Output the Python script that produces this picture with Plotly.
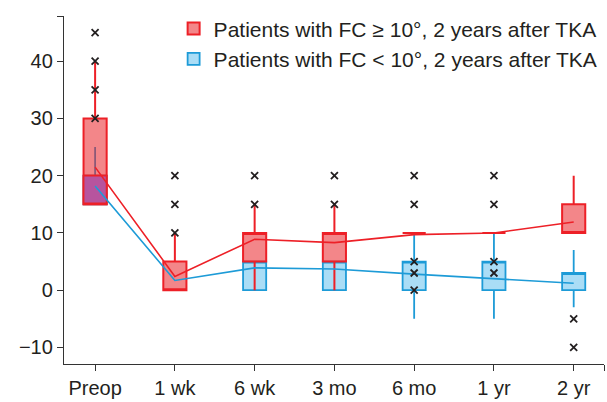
import plotly.graph_objects as go

categories = ["Preop", "1 wk", "6 wk", "3 mo", "6 mo", "1 yr", "2 yr"]

# Patients with FC >= 10 deg (red)
red_q1 = [15, 0, 5, 5, 10, 10, 10]
red_median = [20, 0, 10, 10, 10, 10, 10]
red_q3 = [30, 5, 10, 10, 10, 10, 15]
red_low = [15, 0, 0, 0, 10, 10, 10]
red_high = [40, 10, 15, 15, 10, 10, 20]
red_mean = [21.5, 2.4, 8.9, 8.3, 9.7, 10.0, 11.9]
red_outliers = [[30, 35, 40, 45], [10, 15, 20], [15, 20], [15, 20], [15, 20], [15, 20], []]

# Patients with FC < 10 deg (blue)
blue_q1 = [15, 0, 0, 0, 0, 0, 0]
blue_median = [20, 0, 5, 5, 5, 5, 3]
blue_q3 = [20, 0, 5, 5, 5, 5, 3]
blue_low = [15, 0, 0, 0, -5, -5, -3]
blue_high = [25, 0, 5, 5, 10, 10, 7]
blue_mean = [18.2, 1.7, 3.9, 3.7, 2.8, 2.0, 1.2]
blue_outliers = [[], [], [], [], [0, 3, 5], [3, 5], [-5, -10]]

y_ticks = [-10, 0, 10, 20, 30, 40]

RED = "rgb(237,32,39)"
RED_FILL = "rgba(234,35,40,0.55)"
BLUE = "rgb(29,155,215)"
BLUE_FILL = "rgb(170,221,246)"
OVERLAP_FILL = "rgb(183,84,158)"
TXT = "#231f20"
FONT = "Liberation Sans, Arial, Helvetica, sans-serif"

xs = list(range(len(categories)))
BW = 0.29

fig = go.Figure()

fig.add_trace(go.Box(
    x=xs, q1=blue_q1, median=blue_median, q3=blue_q3,
    lowerfence=blue_low, upperfence=blue_high,
    name="Patients with FC < 10°, 2 years after TKA",
    fillcolor=BLUE_FILL, line=dict(color=BLUE, width=1.8),
    whiskerwidth=0, boxpoints=False, width=BW, legendrank=2,
    hoverinfo="skip",
))

fig.add_trace(go.Box(
    x=xs, q1=red_q1, median=red_median, q3=red_q3,
    lowerfence=red_low, upperfence=red_high,
    name="Patients with FC ≥ 10°, 2 years after TKA",
    fillcolor=RED_FILL, line=dict(color=RED, width=2),
    whiskerwidth=0, boxpoints=False, width=BW, legendrank=1,
    hoverinfo="skip",
))

# overlapping region of the two Preop boxes
ov_lo = max(red_q1[0], blue_q1[0])
ov_hi = min(red_q3[0], blue_q3[0])
fig.add_trace(go.Box(
    x=[xs[0]], q1=[ov_lo], median=[ov_lo], q3=[ov_hi],
    lowerfence=[ov_lo], upperfence=[ov_hi],
    fillcolor=OVERLAP_FILL, line=dict(color=RED, width=1.8),
    whiskerwidth=0, boxpoints=False, width=BW, showlegend=False,
    hoverinfo="skip",
))

fig.add_trace(go.Scatter(
    x=xs, y=blue_mean, mode="lines", line=dict(color=BLUE, width=1.6),
    showlegend=False, hoverinfo="skip",
))
fig.add_trace(go.Scatter(
    x=xs, y=red_mean, mode="lines", line=dict(color=RED, width=1.6),
    showlegend=False, hoverinfo="skip",
))

ox, oy = [], []
for i in xs:
    for v in red_outliers[i] + blue_outliers[i]:
        ox.append(i)
        oy.append(v)
fig.add_trace(go.Scatter(
    x=ox, y=oy, mode="markers",
    marker=dict(symbol="x-thin", size=7, line=dict(width=1.8, color=TXT)),
    showlegend=False, hoverinfo="skip",
))

x_lo, x_hi = -0.39, 6.38
y_lo, y_hi = -12.9, 47.9

fig.update_layout(
    width=607, height=402,
    margin=dict(l=64, r=3, t=16, b=34),
    paper_bgcolor="white", plot_bgcolor="white",
    boxmode="overlay",
    font=dict(family=FONT, size=21, color=TXT),
    legend=dict(
        x=0.203, y=1.022, xanchor="left", yanchor="top",
        bgcolor="rgba(0,0,0,0)", font=dict(size=21, color=TXT),
        tracegroupgap=0,
    ),
    xaxis=dict(
        range=[x_lo, x_hi], tickvals=xs + [x_hi], ticktext=categories + [""],
        showgrid=False, zeroline=False, showline=True, linecolor="#333",
        linewidth=1.3, ticks="outside", ticklen=6, tickcolor="#333",
        tickwidth=1.3, tickfont=dict(size=20, color=TXT),
    ),
    yaxis=dict(
        range=[y_lo, y_hi], tickvals=y_ticks + [y_hi],
        ticktext=[("−" + str(-t)) if t < 0 else str(t) for t in y_ticks] + [""],
        showgrid=False, zeroline=False, showline=True, linecolor="#333",
        linewidth=1.3, ticks="outside", ticklen=6, tickcolor="#333",
        tickwidth=1.3, tickfont=dict(size=20, color=TXT),
    ),
)

fig.write_html("out.html", config={"displayModeBar": False},
               post_script="document.body.style.margin='0';")
